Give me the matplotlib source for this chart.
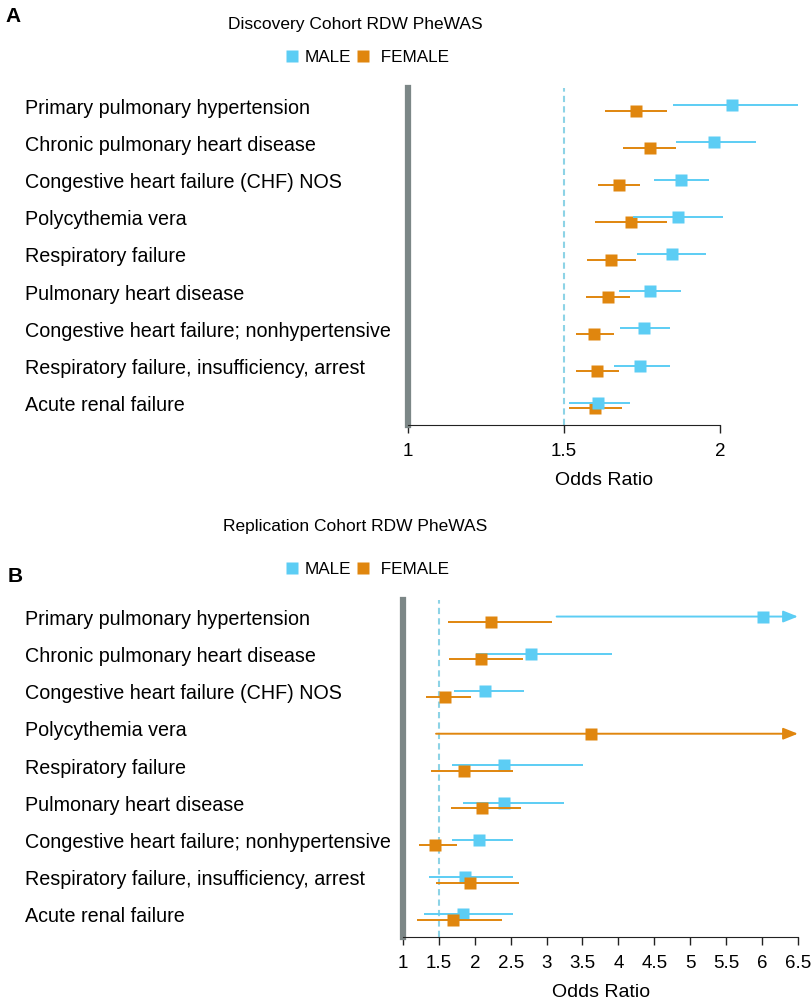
import numpy as np
import matplotlib
matplotlib.use('Agg')
import matplotlib.pyplot as plt
from matplotlib.lines import Line2D
from matplotlib.transforms import blended_transform_factory

plt.rcParams['font.family'] = ['Liberation Sans', 'DejaVu Sans']

conditions = [
    'Primary pulmonary hypertension',
    'Chronic pulmonary heart disease',
    'Congestive heart failure (CHF) NOS',
    'Polycythemia vera',
    'Respiratory failure',
    'Pulmonary heart disease',
    'Congestive heart failure; nonhypertensive',
    'Respiratory failure, insufficiency, arrest',
    'Acute renal failure',
]

# Discovery cohort odds ratios and 95% CI
disc_male_or = [2.04, 1.98, 1.875, 1.865, 1.845, 1.775, 1.757, 1.745, 1.61]
disc_male_lo = [1.85, 1.86, 1.79, 1.72, 1.735, 1.675, 1.68, 1.66, 1.515]
disc_male_hi = [2.25, 2.115, 1.965, 2.01, 1.955, 1.875, 1.84, 1.84, 1.71]
disc_female_or = [1.73, 1.777, 1.677, 1.715, 1.65, 1.64, 1.595, 1.607, 1.60]
disc_female_lo = [1.63, 1.69, 1.61, 1.60, 1.575, 1.57, 1.54, 1.54, 1.515]
disc_female_hi = [1.83, 1.86, 1.745, 1.83, 1.73, 1.71, 1.66, 1.675, 1.685]

# Replication cohort (inf = CI runs past the axis, drawn as an arrow)
rep_male_or = [6.01, 2.78, 2.14, np.nan, 2.41, 2.41, 2.06, 1.86, 1.84]
rep_male_lo = [3.14, 2.02, 1.71, np.nan, 1.68, 1.83, 1.68, 1.36, 1.29]
rep_male_hi = [np.inf, 3.91, 2.69, np.nan, 3.51, 3.24, 2.53, 2.53, 2.53]
rep_female_or = [2.22, 2.09, 1.59, 3.62, 1.85, 2.10, 1.44, 1.93, 1.70]
rep_female_lo = [1.63, 1.64, 1.32, 1.46, 1.39, 1.67, 1.22, 1.46, 1.19]
rep_female_hi = [3.08, 2.67, 1.95, np.inf, 2.53, 2.65, 1.75, 2.62, 2.38]

disc_ticks = [1, 1.5, 2]
rep_ticks = [1, 1.5, 2, 2.5, 3, 3.5, 4, 4.5, 5, 5.5, 6, 6.5]

MALE = '#5ccdf4'
FEMALE = '#e0860e'
DASH = '#8dd3e6'
BAR = '#7c8787'

W, H = 812, 1002
fig = plt.figure(figsize=(W / 100, H / 100), dpi=100)


def draw_series(ax, y, orr, lo, hi, color, x_end, z):
    for yi, o, l, h in zip(y, orr, lo, hi):
        if np.isnan(o):
            continue
        if np.isinf(h):
            ax.annotate('', xy=(x_end, yi), xytext=(l, yi),
                        arrowprops=dict(arrowstyle='-|>,head_length=0.55,head_width=0.22',
                                        color=color, lw=1.4,
                                        mutation_scale=16, shrinkA=0, shrinkB=0),
                        zorder=z, annotation_clip=False)
        else:
            ax.plot([l, h], [yi, yi], color=color, lw=1.4, zorder=z,
                    solid_capstyle='butt', clip_on=False)
        ax.plot(o, yi, marker='s', ms=8, color=color, mec='none', zorder=z + 0.5,
                clip_on=False)


def forest(rect, xlim, ticks, x_end, ylim, male, female, male_top):
    ax = fig.add_axes(rect)
    ax.set_xlim(*xlim)
    ax.set_ylim(*ylim)
    rows = np.arange(len(conditions))
    ax.axvline(1.5, color=DASH, lw=1.5, ls=(0, (3, 2)), zorder=1)
    zm, zf = (4, 3) if male_top else (3, 4)
    draw_series(ax, rows - 0.075, *male, MALE, x_end, zm)
    draw_series(ax, rows + 0.075, *female, FEMALE, x_end, zf)

    for s in ['top', 'right']:
        ax.spines[s].set_visible(False)
    ax.spines['left'].set_color(BAR)
    ax.spines['left'].set_linewidth(4.5)
    ax.spines['bottom'].set_bounds(ticks[0], ticks[-1])
    ax.spines['bottom'].set_color('#222222')
    ax.set_yticks([])
    ax.set_xticks(ticks)
    ax.set_xticklabels([f'{t:g}' for t in ticks])
    ax.tick_params(axis='x', direction='out', length=6, width=1, color='#222222',
                   labelsize=13.5, pad=7)
    ax.set_xlabel('Odds Ratio', fontsize=14, labelpad=8.5)

    trans = blended_transform_factory(fig.transFigure, ax.transData)
    for r, name in zip(rows, conditions):
        ax.text(25 / W, r, name, transform=trans, ha='left', va='center', fontsize=14.2)
    return ax


def header(title, title_y, legend_y):
    fig.text(355 / W, 1 - title_y / H, title, ha='center', va='center', fontsize=12.5)
    handles = [Line2D([], [], marker='s', ls='none', ms=8, color=MALE, mec='none'),
               Line2D([], [], marker='s', ls='none', ms=8, color=FEMALE, mec='none')]
    fig.legend(handles, ['MALE', ' FEMALE'], loc='center', ncol=2, frameon=False,
               bbox_to_anchor=(367 / W, 1 - legend_y / H), fontsize=12.3,
               handlelength=0.8, handletextpad=0.35, columnspacing=0.3, borderpad=0)


# panel A
forest([408 / W, 1 - 425 / H, 392 / W, 337 / H], (1, 1 + 392 / 312), disc_ticks, 2.25,
       (8.52, -0.54),
       (disc_male_or, disc_male_lo, disc_male_hi),
       (disc_female_or, disc_female_lo, disc_female_hi), male_top=True)
header('Discovery Cohort RDW PheWAS', 25, 57)
fig.text(5 / W, 1 - 17 / H, 'A', fontsize=15, fontweight='bold', ha='left', va='center')

# panel B
forest([403 / W, 1 - 937 / H, 397 / W, 337 / H], (1, 1 + 397 / 71.8), rep_ticks, 6.5,
       (8.54, -0.52),
       (rep_male_or, rep_male_lo, rep_male_hi),
       (rep_female_or, rep_female_lo, rep_female_hi), male_top=False)
header('Replication Cohort RDW PheWAS', 527, 569)
fig.text(8 / W, 1 - 576 / H, 'B', fontsize=15, fontweight='bold', ha='left', va='center')

fig.savefig('out.png', dpi=100)
